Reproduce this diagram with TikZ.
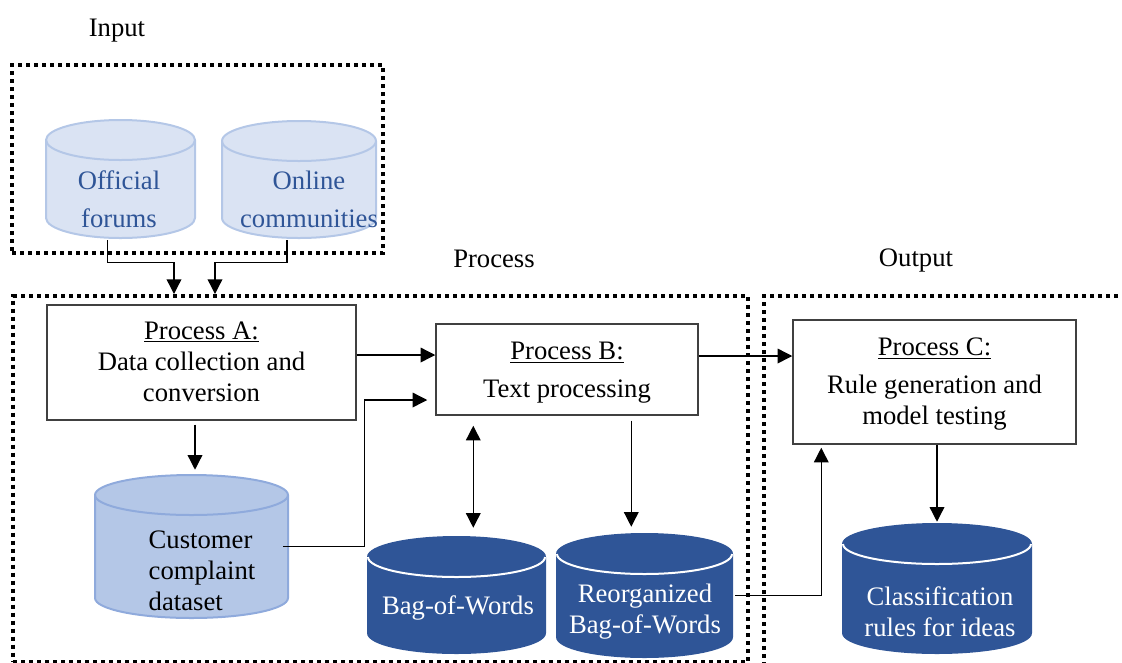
\documentclass[tikz,border=0pt]{standalone}
\usepackage{fontspec}
\setmainfont{Liberation Serif}
\usetikzlibrary{arrows.meta,calc,fit}
\definecolor{lightfill}{HTML}{DAE3F3}
\definecolor{lightline}{HTML}{B4C7E7}
\definecolor{midfill}{HTML}{B4C7E7}
\definecolor{midline}{HTML}{8FAADC}
\definecolor{darkfill}{HTML}{2F5597}
\definecolor{boxline}{HTML}{404040}
\definecolor{lighttext}{HTML}{2F5597}

% #1 xl, #2 xr, #3 ytop, #4 ybot, #5 fill, #6 outline, #7 cap line
\newcommand\cylshape[7]{%
 \pgfmathsetmacro\cylrx{(#2-#1)/2*0.75}%
 \pgfmathsetmacro\cylyt{#3+20}%
 \pgfmathsetmacro\cylyb{#4-20}%
 \fill[#5] (#1,\cylyt) -- (#1,\cylyb) arc[start angle=180,end angle=360,x radius=\cylrx pt,y radius=15pt] -- (#2,\cylyt) arc[start angle=0,end angle=180,x radius=\cylrx pt,y radius=15pt] -- cycle;
 \draw[#6,line width=1.5pt] (#1,\cylyt) -- (#1,\cylyb) arc[start angle=180,end angle=360,x radius=\cylrx pt,y radius=15pt] -- (#2,\cylyt) arc[start angle=0,end angle=180,x radius=\cylrx pt,y radius=15pt] -- cycle;
 \draw[#7,line width=1.5pt] (#1,\cylyt) arc[start angle=180,end angle=360,x radius=\cylrx pt,y radius=15pt];
}

\begin{document}
\begin{tikzpicture}[x=0.75pt,y=-0.75pt,
 every node/.style={font=\fontsize{20}{23.25}\selectfont},
 dotbox/.style={draw, line width=3pt, dash pattern=on 3pt off 3pt, inner sep=0pt},
 procbox/.style={draw=boxline, line width=1.1pt, fill=white, inner sep=0pt},
 proctext/.style={align=center},
 arr/.style={line width=1pt, -{Triangle[length=11pt,width=11pt]}},
 darr/.style={line width=1pt, {Triangle[length=11pt,width=11pt]}-{Triangle[length=11pt,width=11pt]}},
 cylarea/.style={inner sep=0pt},
 lbl/.style={}]

\useasboundingbox (0,0) rectangle (1122,662);

% section labels
\node[lbl] (lin) at (117,31) {Input};
\node[lbl] (lproc) at (494,259) {Process};
\node[lbl] (lout) at (916,261) {Output};

% dotted areas
\node[dotbox, fit={(12,65) (383,253)}] (inbox) {};
\node[dotbox, fit={(13,296) (748,661.5)}] (procarea) {};
\node[dotbox, fit={(764,296) (1135,700)}] (outarea) {};

% cylinders
\cylshape{46}{195}{120}{238}{lightfill}{lightline}{lightline}
\node[cylarea, fit={(46,120) (195,238)}] (off) {};
\node[text=lighttext, align=center, font=\fontsize{20}{28.5}\selectfont] (offt) at (119,199) {Official\\forums};

\cylshape{222}{376}{121}{238}{lightfill}{lightline}{lightline}
\node[cylarea, fit={(222,121) (376,238)}] (onl) {};
\node[text=lighttext, align=center, font=\fontsize{20}{28.5}\selectfont] (onlt) at (309,199) {Online\\communities};

\cylshape{95}{288}{475}{618}{midfill}{midline}{midline}
\node[cylarea, fit={(95,475) (288,618)}] (cust) {};
\node[align=left, anchor=west] (custt) at (144,571) {Customer\\complaint\\dataset};

\cylshape{368}{545}{537}{653}{darkfill}{darkfill}{white}
\node[cylarea, fit={(368,537) (545,653)}] (bow) {};
\node[text=white] (bowt) at (458,608) {Bag-of-Words};

\cylshape{557}{732}{534}{657}{darkfill}{darkfill}{white}
\node[cylarea, fit={(557,534) (732,657)}] (reo) {};
\node[text=white, align=center] (reot) at (645,612) {Reorganized\\Bag-of-Words};

\cylshape{843}{1031}{524}{653}{darkfill}{darkfill}{white}
\node[cylarea, fit={(843,524) (1031,653)}] (cls) {};
\node[text=white, align=center] (clst) at (940,612) {Classification\\rules for ideas};

% process boxes
\node[procbox, fit={(47,305) (356,420)}] (pa) {};
\node[proctext] (pat) at ($(pa.center)+(0,-1)$) {\underline{Process A:}\\Data collection and\\conversion};
\node[procbox, fit={(436,324) (698,415)}] (pb) {};
\node[proctext] (pbt) at ($(pb.center)+(0,3)$) {\underline{Process B:}\\[5pt]Text processing};
\node[procbox, fit={(793,320) (1076,444)}] (pc) {};
\node[proctext] (pct) at ($(pc.center)+(0,2)$) {\underline{Process C:}\\[5pt]Rule generation and\\model testing};

% connectors
\draw[arr] ($(off.south)+(-13,2)$) -- ++(0,22) -| ($(procarea.north west)+(163,0)$);
\draw[arr] ($(onl.south)+(-12,2)$) -- ++(0,22) -| ($(procarea.north west)+(204,0)$);

\draw[arr] ($(pa.east)+(0,-7.5)$) coordinate (ab) -- (ab -| pb.west);
\draw[arr, shorten >=3.75pt] ($(pa.south)+(-6.5,4)$) coordinate (ac) -- (ac |- cust.north);
\draw[arr, shorten >=6pt] ($(cust.east)+(-5,0)$) -| ($(pb.west)+(-71,30.5)$) coordinate (cb) -- (cb -| pb.west);

\draw[darr, shorten <=7.5pt, shorten >=6.75pt] ($(pb.south west)+(38,0)$) coordinate (bb) -- (bb |- bow.north);
\draw[arr, shorten <=3.75pt, shorten >=5.25pt] ($(pb.south west)+(196,0)$) coordinate (br) -- (br |- reo.north);

\draw[arr] ($(pb.east)+(0,-13.5)$) coordinate (bc) -- (bc -| pc.west);
\draw[arr, shorten >=2.25pt] ($(reo.east)+(3,0)$) -| ($(pc.south west)+(29,0)$);
\draw[arr, shorten >=1.5pt] ($(pc.south)+(2.5,0)$) coordinate (cc) -- (cc |- cls.north);

\end{tikzpicture}
\end{document}
